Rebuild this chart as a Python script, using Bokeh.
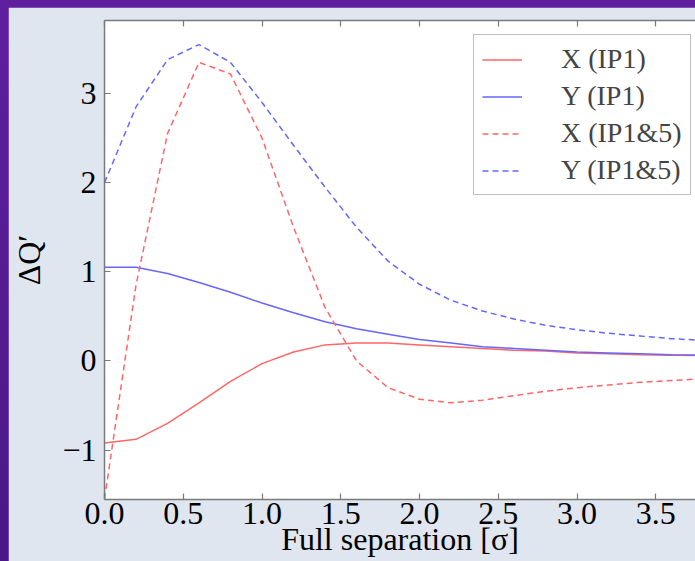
from bokeh.plotting import figure
from bokeh.models import (Range1d, LinearAxis, FixedTicker, Legend, LegendItem,
                          ColumnDataSource, CustomLabelingPolicy)
from bokeh.layouts import column
from bokeh.embed import file_html
from bokeh.resources import INLINE

# ---- data ----
separation = [0.0, 0.2, 0.4, 0.6, 0.8, 1.0, 1.2, 1.4, 1.6, 1.8,
              2.0, 2.2, 2.4, 2.6, 2.8, 3.0, 3.2, 3.4, 3.6, 3.8]
x_ip1 = [-0.92, -0.88, -0.70, -0.47, -0.23, -0.03, 0.10, 0.18, 0.20, 0.20,
         0.18, 0.16, 0.14, 0.12, 0.11, 0.09, 0.08, 0.07, 0.065, 0.06]
y_ip1 = [1.05, 1.05, 0.98, 0.88, 0.77, 0.65, 0.54, 0.44, 0.36, 0.30,
         0.24, 0.20, 0.16, 0.14, 0.12, 0.10, 0.09, 0.08, 0.07, 0.065]
x_ip15 = [-1.55, 0.85, 2.55, 3.35, 3.22, 2.50, 1.50, 0.60, 0.00, -0.30,
          -0.43, -0.47, -0.44, -0.39, -0.34, -0.30, -0.27, -0.24, -0.22, -0.20]
y_ip15 = [2.00, 2.85, 3.38, 3.55, 3.35, 2.90, 2.42, 1.95, 1.50, 1.12,
          0.86, 0.68, 0.56, 0.47, 0.40, 0.35, 0.31, 0.28, 0.25, 0.23]

series_names = ["X (IP1)", "Y (IP1)", "X (IP1&5)", "Y (IP1&5)"]
x_ticks = [0.0, 0.5, 1.0, 1.5, 2.0, 2.5, 3.0, 3.5]
x_tick_labels = ["0.0", "0.5", "1.0", "1.5", "2.0", "2.5", "3.0", "3.5"]
y_ticks = [-1, 0, 1, 2, 3]
y_tick_labels = ["\u22121", "0", "1", "2", "3"]
x_label = "Full separation [\u03c3]"
y_label = "\u0394Q\u2032"

# ---- styling ----
RED = "#ff6666"
BLUE = "#6666ff"
FONT = "Liberation Serif"
AXIS_COLOR = "#7a7a7a"

src = ColumnDataSource(dict(sep=separation, x_ip1=x_ip1, y_ip1=y_ip1,
                            x_ip15=x_ip15, y_ip15=y_ip15))

p = figure(width=687, height=554, output_backend="svg", toolbar_location=None,
           x_range=Range1d(0, 3.752), y_range=Range1d(-1.555, 3.82),
           min_border_left=95, min_border_right=0, min_border_top=13,
           min_border_bottom=62, x_axis_label=x_label, y_axis_label=y_label)
p.margin = (7, 0, 0, 8)
p.grid.visible = False
p.outline_line_color = None
p.background_fill_color = "white"
p.border_fill_color = "#e0e6ef"

for ax in (p.xaxis[0], p.yaxis[0]):
    ax.axis_line_color = AXIS_COLOR
    ax.axis_line_width = 1.5
    ax.major_tick_line_color = AXIS_COLOR
    ax.major_tick_line_width = 1.2
    ax.major_tick_in = 6
    ax.major_tick_out = 0
    ax.minor_tick_line_color = None
    ax.major_label_text_font = FONT
    ax.major_label_text_font_size = "32px"
    ax.major_label_text_color = "black"
    ax.axis_label_text_font = FONT
    ax.axis_label_text_font_size = "32px"
    ax.axis_label_text_font_style = "normal"
    ax.axis_label_text_color = "black"

p.xaxis.ticker = FixedTicker(ticks=x_ticks)
p.xaxis.major_label_overrides = dict(zip(x_ticks, x_tick_labels))
p.xaxis.major_label_standoff = 3
p.xaxis.axis_label_standoff = -6

p.yaxis.ticker = FixedTicker(ticks=y_ticks)
p.yaxis.major_label_overrides = dict(zip(y_ticks, y_tick_labels))
p.yaxis.major_label_standoff = 8
p.yaxis.axis_label_standoff = 12

# top spine with inward ticks, no labels
hide_all = CustomLabelingPolicy(code="for (const i of indices) indices.unset(i); return indices")
top = LinearAxis(ticker=FixedTicker(ticks=x_ticks), major_label_text_font_size="1px",
                 major_label_policy=hide_all,
                 axis_line_color=AXIS_COLOR, axis_line_width=1.5,
                 major_tick_line_color=AXIS_COLOR, major_tick_line_width=1.2,
                 major_tick_in=6, major_tick_out=0, minor_tick_line_color=None,
                 major_label_standoff=0)
p.add_layout(top, "above")

r1 = p.line("sep", "x_ip1", source=src, line_color=RED, line_width=1.5)
r2 = p.line("sep", "y_ip1", source=src, line_color=BLUE, line_width=1.5)
r3 = p.line("sep", "x_ip15", source=src, line_color=RED, line_width=1.5, line_dash="6 4")
r4 = p.line("sep", "y_ip15", source=src, line_color=BLUE, line_width=1.5, line_dash="6 4")

legend = Legend(items=[LegendItem(label=n, renderers=[r]) for n, r in
                       zip(series_names, [r1, r2, r3, r4])],
                location=(369, 304), border_line_color="#808080", border_line_width=1.5,
                background_fill_color="white", background_fill_alpha=1.0,
                label_text_font=FONT, label_text_font_size="28px",
                glyph_width=40, glyph_height=29, label_height=29,
                label_standoff=39, spacing=5, padding=8, margin=0)
p.add_layout(legend)

layout = column(p, styles={"background": "linear-gradient(180deg, #5f1f9f 0%, #4a1887 100%)"})

with open("out.html", "w") as f:
    f.write(file_html(layout, INLINE))
